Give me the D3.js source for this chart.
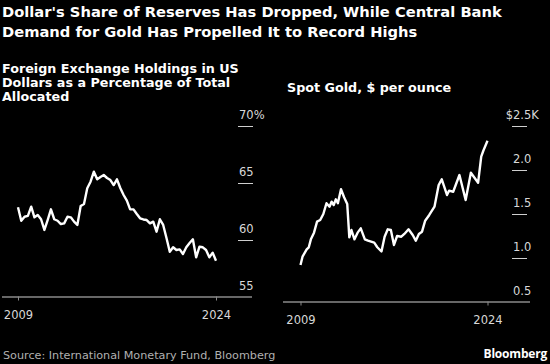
<!DOCTYPE html>
<html><head><meta charset="utf-8">
<script src="https://cdn.jsdelivr.net/npm/d3@7"></script>
<style>
html,body{margin:0;padding:0;background:#000;}
svg{display:block;}
</style></head>
<body>
<svg id="c" width="550" height="364"></svg>
<script>
// ---- Data ----
const usdShare = [62.87,61.69,62.04,62.11,62.92,61.99,62.19,61.82,60.88,61.75,62.69,61.82,61.69,61.40,61.46,62.04,61.99,61.61,61.32,62.98,63.16,64.54,65.11,65.99,65.32,65.53,65.70,65.44,65.26,64.82,65.32,64.56,63.95,63.45,62.69,62.69,62.28,61.90,61.80,61.75,61.46,61.61,60.73,61.82,61.32,60.18,58.97,59.36,59.12,59.18,58.77,59.36,59.74,60.06,58.48,59.41,59.36,59.12,58.48,58.89,58.18];
const usdStart = "2009-01", usdEnd = "2024-01"; // quarterly observations
const goldDates = ["2009-01","2009-03","2009-07","2009-09","2009-11","2010-02","2010-05","2010-08","2010-11","2011-02","2011-05","2011-07","2011-09","2011-11","2012-01","2012-04","2012-07","2012-10","2012-12","2013-02","2013-05","2013-08","2013-11","2014-03","2014-06","2014-12","2015-03","2015-07","2015-10","2016-01","2016-04","2016-07","2016-10","2017-02","2017-05","2017-09","2018-01","2018-04","2018-07","2018-10","2019-01","2019-05","2019-10","2020-02","2020-05","2020-10","2020-12","2021-04","2021-10","2022-04","2022-09","2023-04","2023-07","2023-09","2024-01"];
const goldPrice = [0.920,1.015,1.099,1.122,1.212,1.288,1.413,1.432,1.500,1.622,1.583,1.640,1.602,1.667,1.622,1.781,1.690,1.614,1.235,1.318,1.212,1.288,1.337,1.212,1.197,1.174,1.122,1.074,1.242,1.326,1.318,1.148,1.250,1.242,1.273,1.326,1.261,1.197,1.273,1.299,1.424,1.489,1.583,1.830,1.894,1.716,1.765,1.753,1.943,1.659,1.969,1.856,2.151,2.219,2.333];
const leftTicks = [55,60,65,70];
const rightTicks = [0.5,1.0,1.5,2.0,2.5];
const yearTicks = ["2009","2024"];
const title = ["Dollar's Share of Reserves Has Dropped, While Central Bank","Demand for Gold Has Propelled It to Record Highs"];
const leftSub = ["Foreign Exchange Holdings in US","Dollars as a Percentage of Total","Allocated"];
const rightSub = "Spot Gold, $ per ounce";
const source = "Source: International Monetary Fund, Bloomberg";

// ---- Build ----
const parse = d3.timeParse("%Y-%m");
const parseY = d3.timeParse("%Y");
const usdDates = d3.timeMonth.every(3).range(parse(usdStart), d3.timeMonth.offset(parse(usdEnd),1));
const usd = usdDates.map((d,i)=>({d, v: usdShare[i]}));
const gold = goldDates.map((s,i)=>({d: parse(s), v: goldPrice[i]}));

const svg = d3.select("#c");
svg.append("rect").attr("width",550).attr("height",364).attr("fill","#000");

const headFont = "'DejaVu Sans', sans-serif";
const tickFont = "'DejaVu Sans', sans-serif";

// size a bold text block so that its first line spans a target width
function fitSize(str, target, base){
  const t = svg.append("text").attr("font-family",headFont).attr("font-weight",700)
    .attr("font-size",base+"px").text(str);
  const w = t.node().getComputedTextLength(); t.remove();
  return base * target / w;
}

function block(lines, x, y0, lh, size){
  const t = svg.append("text").attr("x",x).attr("y",y0)
    .attr("fill","#fff").attr("font-family",headFont).attr("font-weight",700)
    .attr("font-size",size+"px");
  t.selectAll("tspan").data(lines).join("tspan")
    .attr("x",x).attr("y",(d,i)=>y0+i*lh).text(d=>d);
}
const titleSize = fitSize(title[0], 500, 14);
block(title, 2, 17, 20, titleSize);
const subSize = fitSize(leftSub[0], 237, 12);
block(leftSub, 2, 73, 14, subSize);
block([rightSub], 287, 92, 14, subSize);

// scales
const xL = d3.scaleTime().domain([parseY("2009"),parseY("2024")]).range([18,216]);
const yL = d3.scaleLinear().domain([55,70]).range([297,126]);
const xR = d3.scaleTime().domain([parseY("2009"),parseY("2024")]).range([300.5,487.5]);
const yR = d3.scaleLinear().domain([0.5,2.5]).range([302,126]);

function yAxis(scale, ticks, x, fmt){
  const g = svg.append("g").attr("transform",`translate(${x},0)`)
    .call(d3.axisRight(scale).tickValues(ticks).tickSize(15).tickFormat(fmt));
  g.select(".domain").remove();
  g.selectAll(".tick line").attr("stroke","#cfcfcf").attr("stroke-width",1)
    .filter(d=>d===ticks[0]).remove();
  g.selectAll(".tick text").attr("fill","#d8d8d8").attr("font-family",tickFont)
    .attr("font-size","11.5px").attr("dy",null).attr("y",-8).attr("x",1)
    .attr("text-anchor","start");
  return g;
}
function xAxis(scale, y, x0, x1){
  const g = svg.append("g").attr("transform",`translate(0,${y})`)
    .call(d3.axisBottom(scale).tickValues(yearTicks.map(parseY)).tickSize(4)
      .tickFormat(d3.timeFormat("%Y")));
  g.select(".domain").remove();
  g.append("line").attr("x1",x0).attr("x2",x1).attr("y1",0.5).attr("y2",0.5)
    .attr("stroke","#8a8a8a").attr("stroke-width",1.5);
  g.selectAll(".tick line").attr("stroke","#8a8a8a");
  g.selectAll(".tick text").attr("fill","#d8d8d8").attr("font-family",tickFont)
    .attr("font-size","11.5px").attr("dy",null).attr("y",22);
}

yAxis(yL, leftTicks, 238, (d)=> d===70 ? "70%" : d3.format("d")(d));
const gR = yAxis(yR, rightTicks, 512, (d)=> d===2.5 ? "$2.5K" : d3.format(".1f")(d));
// hang the "$" prefix to the left of the number column
gR.selectAll(".tick text").filter(d=>d===2.5).each(function(){
  const t = d3.select(this);
  const tmp = gR.append("text").attr("font-family",tickFont).attr("font-size","11.5px").text("$");
  const w = tmp.node().getComputedTextLength(); tmp.remove();
  t.attr("x", 1 - w);
});

xAxis(xL, 296.5, 2, 252);
xAxis(xR, 301.5, 283, 530);

const lineL = d3.line().x(d=>xL(d.d)).y(d=>yL(d.v)).curve(d3.curveLinear);
const lineR = d3.line().x(d=>xR(d.d)).y(d=>yR(d.v)).curve(d3.curveLinear);
svg.append("path").datum(usd).attr("d",lineL).attr("fill","none")
  .attr("stroke","#fff").attr("stroke-width",2.4).attr("stroke-linejoin","round");
svg.append("path").datum(gold).attr("d",lineR).attr("fill","none")
  .attr("stroke","#fff").attr("stroke-width",2.4).attr("stroke-linejoin","round");

svg.append("text").attr("x",3).attr("y",359).attr("fill","#b0b0b0")
  .attr("font-family",tickFont).attr("font-size","11.2px").text(source);
svg.append("text").attr("x",547).attr("y",358).attr("text-anchor","end")
  .attr("fill","#fff").attr("font-family","'Open Sans', sans-serif").attr("font-weight",700)
  .attr("font-size","12px").attr("letter-spacing","-0.2px").text("Bloomberg");
</script>
</body></html>
